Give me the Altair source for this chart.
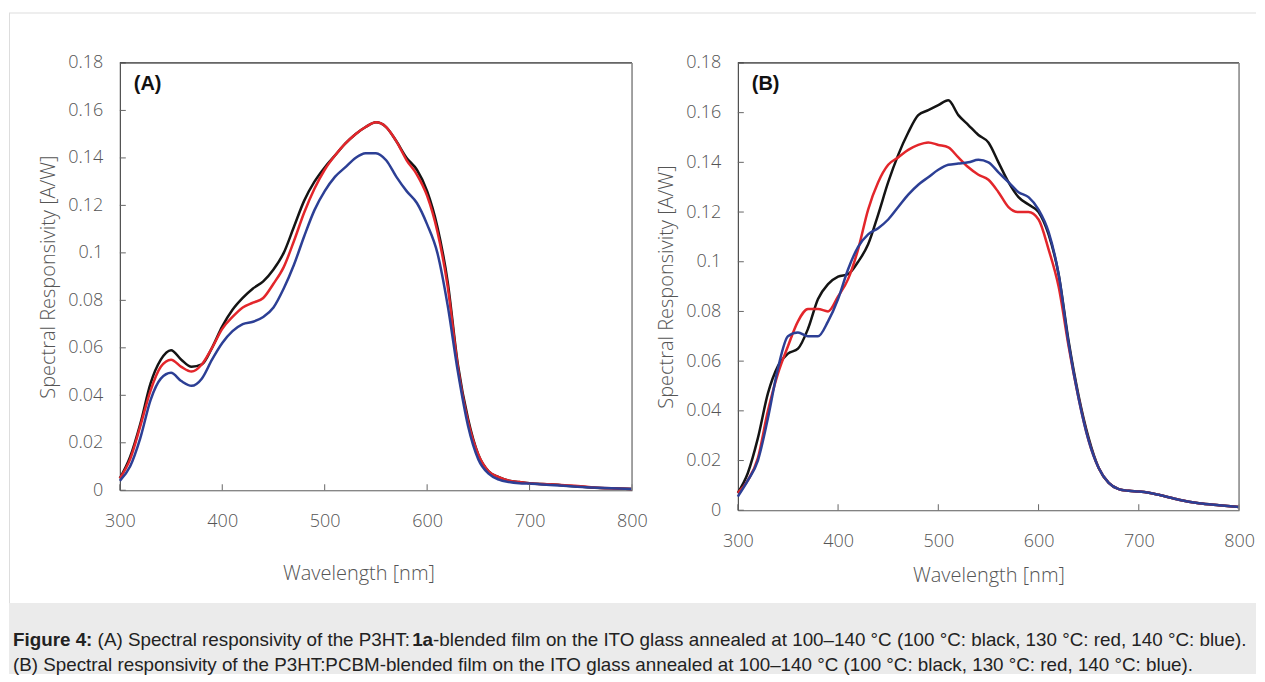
import altair as alt
import pandas as pd

# ---------------- data ----------------
wl_A = [300, 310, 320, 330, 340, 350, 360, 370, 380, 390, 400, 410, 420, 430, 440,
        450, 460, 470, 480, 490, 500, 510, 520, 530, 540, 550, 560, 570, 580, 590,
        600, 610, 620, 630, 640, 650, 660, 670, 680, 690, 700, 720, 740, 760, 780, 800]
A_black = [0.005, 0.014, 0.028, 0.045, 0.055, 0.059, 0.055, 0.052, 0.053, 0.060,
           0.069, 0.076, 0.081, 0.085, 0.088, 0.093, 0.100, 0.111, 0.122, 0.130,
           0.136, 0.141, 0.146, 0.150, 0.153, 0.155, 0.153, 0.147, 0.140, 0.135,
           0.126, 0.111, 0.088, 0.053, 0.030, 0.015, 0.008, 0.0055, 0.004, 0.0035,
           0.003, 0.0025, 0.0018, 0.0012, 0.0008, 0.0005]
A_red = [0.005, 0.013, 0.027, 0.042, 0.052, 0.055, 0.052, 0.050, 0.053, 0.060,
         0.068, 0.073, 0.077, 0.079, 0.081, 0.087, 0.094, 0.105, 0.117, 0.127,
         0.135, 0.141, 0.146, 0.150, 0.153, 0.155, 0.153, 0.147, 0.139, 0.133,
         0.124, 0.109, 0.086, 0.052, 0.029, 0.015, 0.008, 0.0055, 0.004, 0.0035,
         0.003, 0.0025, 0.002, 0.0013, 0.0008, 0.0005]
A_blue = [0.004, 0.010, 0.022, 0.038, 0.047, 0.0495, 0.046, 0.044, 0.047, 0.055,
          0.062, 0.067, 0.070, 0.071, 0.073, 0.077, 0.085, 0.095, 0.107, 0.118,
          0.126, 0.132, 0.136, 0.140, 0.142, 0.142, 0.139, 0.132, 0.126, 0.121,
          0.112, 0.100, 0.078, 0.050, 0.027, 0.013, 0.007, 0.0045, 0.0035, 0.003,
          0.0028, 0.0022, 0.0017, 0.0012, 0.0008, 0.0005]

wl_B = [300, 310, 320, 330, 340, 350, 360, 370, 380, 390, 400, 410, 420, 430, 440,
        450, 460, 470, 480, 490, 500, 510, 520, 530, 540, 550, 560, 570, 580, 590,
        600, 610, 620, 630, 640, 650, 660, 670, 680, 690, 700, 710, 720, 740, 760, 780, 800]
B_black = [0.007, 0.015, 0.029, 0.047, 0.058, 0.063, 0.065, 0.073, 0.085, 0.091,
           0.094, 0.095, 0.100, 0.107, 0.119, 0.132, 0.143, 0.152, 0.159, 0.161,
           0.163, 0.165, 0.159, 0.155, 0.151, 0.148, 0.140, 0.132, 0.126, 0.123,
           0.120, 0.111, 0.095, 0.068, 0.046, 0.029, 0.017, 0.011, 0.0085, 0.0078,
           0.0075, 0.007, 0.0062, 0.0042, 0.0028, 0.002, 0.0013]
B_red = [0.007, 0.012, 0.021, 0.040, 0.055, 0.066, 0.076, 0.081, 0.081, 0.080,
         0.086, 0.093, 0.105, 0.121, 0.132, 0.139, 0.142, 0.145, 0.147, 0.148,
         0.147, 0.146, 0.142, 0.138, 0.135, 0.133, 0.128, 0.122, 0.120, 0.120,
         0.117, 0.105, 0.090, 0.066, 0.045, 0.028, 0.017, 0.011, 0.0085, 0.0078,
         0.0075, 0.007, 0.0062, 0.0042, 0.0028, 0.002, 0.0013]
B_blue = [0.0055, 0.012, 0.020, 0.037, 0.057, 0.070, 0.0715, 0.070, 0.070, 0.076,
          0.085, 0.097, 0.106, 0.111, 0.1135, 0.117, 0.122, 0.127, 0.131, 0.134,
          0.137, 0.139, 0.1395, 0.140, 0.141, 0.140, 0.136, 0.132, 0.128, 0.126,
          0.121, 0.112, 0.095, 0.067, 0.045, 0.028, 0.017, 0.011, 0.0085, 0.0078,
          0.0075, 0.007, 0.0062, 0.0042, 0.0028, 0.002, 0.0013]

series_names = ["100 °C", "130 °C", "140 °C"]
series_colors = ["#141414", "#e3262b", "#2c3f95"]
x_ticks = [300, 400, 500, 600, 700, 800]
y_ticks = [0, 0.02, 0.04, 0.06, 0.08, 0.10, 0.12, 0.14, 0.16, 0.18]
panel_labels = ["(A)", "(B)"]
x_title = "Wavelength [nm]"
y_title = "Spectral Responsivity [A/W]"

# (text, bold, leading gap in spaces)
cap1 = [("Figure 4:", True, 0), ("(A) Spectral responsivity of the P3HT:", False, 1), ("1a", True, 0),
        ("-blended film on the ITO glass annealed at 100–140 °C (100 °C: black, 130 °C: red, 140 °C: blue).", False, 0)]
cap2 = [("(B) Spectral responsivity of the P3HT:PCBM-blended film on the ITO glass annealed at 100–140 °C (100 °C: black, 130 °C: red, 140 °C: blue).", False, 0)]

# ---------------- caption text metrics (Arial / Liberation Sans) ----------------
REG = {' ': 278, '(': 333, ')': 333, 'A': 667, 'B': 667, 'C': 722, 'H': 722, 'I': 278,
       'M': 833, 'O': 778, 'P': 667, 'S': 667, 'T': 611, 'a': 556, 'b': 556, 'c': 500,
       'd': 556, 'e': 556, 'f': 278, 'g': 556, 'h': 556, 'i': 222, 'k': 500, 'l': 222,
       'm': 833, 'n': 556, 'o': 556, 'p': 556, 'r': 333, 's': 500, 't': 278, 'u': 556,
       'v': 500, 'y': 500, ':': 278, '-': 333, '–': 556, '°': 400, ',': 278, '.': 278}
BOLD = {'F': 611, 'i': 278, 'g': 611, 'u': 611, 'r': 389, 'e': 556, ' ': 278, ':': 333, 'a': 556}


def units(s, bold):
    tbl = BOLD if bold else REG
    return sum(556 if ch.isdigit() else tbl.get(ch, 556) for ch in s)


line1_px = 1236.0
cap_fs = line1_px * 1000.0 / sum(units(s, b) + g * 278 for s, b, g in cap1)

FONT = "Open Sans"
FW = 300
CAP_FONT = "Liberation Sans"


def panel(wl, ys_list, w, h, label, xlab_pad, xtitle_pad, xtitle_x, extras=None):
    rows = []
    for name, vals in zip(series_names, ys_list):
        for x, v in zip(wl, vals):
            rows.append({"wl": x, "v": v, "series": name})
    df = pd.DataFrame(rows)
    xs = alt.Scale(domain=[300, 800], nice=False, zero=False)
    ysc = alt.Scale(domain=[0, 0.18], nice=False)
    xaxis = alt.Axis(values=x_ticks, format="d", ticks=False, tickSize=0, grid=False,
                     labelFlush=False, labelPadding=xlab_pad, labelFont=FONT, labelFontSize=18,
                     labelFontWeight=FW, labelColor="#555", title=x_title, titleFont=FONT,
                     titleFontSize=20, titleFontWeight=FW, titleColor="#555",
                     titlePadding=xtitle_pad, titleX=xtitle_x, domainColor="#666")
    yaxis = alt.Axis(values=y_ticks, format=".2~f", ticks=False, tickSize=0, grid=False,
                     labelFlush=False, labelPadding=17, labelFont=FONT, labelFontSize=18,
                     labelFontWeight=FW, labelColor="#555", title=y_title, titleFont=FONT,
                     titleFontSize=20, titleFontWeight=FW, titleColor="#555", titlePadding=9,
                     domainColor="#333")
    lines = alt.Chart(df).mark_line(strokeWidth=2.5, interpolate="monotone").encode(
        x=alt.X("wl:Q", scale=xs, axis=xaxis),
        y=alt.Y("v:Q", scale=ysc, axis=yaxis),
        color=alt.Color("series:N", scale=alt.Scale(domain=series_names, range=series_colors),
                        legend=None),
    )
    xt = alt.Chart(pd.DataFrame({"wl": x_ticks})).mark_rule(color="#666", strokeWidth=1).encode(
        x=alt.X("wl:Q", scale=xs, axis=xaxis), y=alt.value(h), y2=alt.value(h - 6))
    yt = alt.Chart(pd.DataFrame({"v": y_ticks})).mark_rule(color="#666", strokeWidth=1).encode(
        y=alt.Y("v:Q", scale=ysc, axis=yaxis), x=alt.value(0), x2=alt.value(6))
    one_row = pd.DataFrame({"d": [0]})
    top = alt.Chart(one_row).mark_rule(color="#333", strokeWidth=1.2).encode(
        x=alt.value(0), x2=alt.value(w), y=alt.value(0))
    right = alt.Chart(one_row).mark_rule(color="#888", strokeWidth=1.5).encode(
        x=alt.value(w), y=alt.value(0), y2=alt.value(h))
    lab = alt.Chart(pd.DataFrame({"t": [label]})).mark_text(
        align="left", baseline="alphabetic", font=CAP_FONT, fontSize=20, fontWeight="bold",
        color="#111").encode(x=alt.value(14), y=alt.value(27), text="t:N")
    layers = [lines, xt, yt, top, right, lab]
    if extras:
        layers = extras + layers
    return alt.layer(*layers).properties(width=w, height=h)


# caption + frame drawn relative to panel A's plot origin (page 119, 62)
ox, oy = 119, 62
one = pd.DataFrame({"d": [0]})
extras = []
extras.append(alt.Chart(one).mark_rect(color="#ebebeb").encode(
    x=alt.value(8 - ox), x2=alt.value(1257 - ox), y=alt.value(603 - oy), y2=alt.value(674 - oy)))
extras.append(alt.Chart(one).mark_rule(color="#dddddd", strokeWidth=1).encode(
    x=alt.value(8 - ox), x2=alt.value(1257 - ox), y=alt.value(12 - oy)))
extras.append(alt.Chart(one).mark_rule(color="#dddddd", strokeWidth=1).encode(
    x=alt.value(8.5 - ox), y=alt.value(12 - oy), y2=alt.value(603 - oy)))

for line, base in ((cap1, 646), (cap2, 671)):
    xpos = 12.0
    for seg, bold, gap in line:
        xpos += gap * 278 * cap_fs / 1000.0
        extras.append(alt.Chart(pd.DataFrame({"t": [seg]})).mark_text(
            align="left", baseline="alphabetic", font=CAP_FONT, fontSize=cap_fs,
            fontWeight="bold" if bold else "normal", color="#222").encode(
            x=alt.value(xpos - ox), y=alt.value(base - oy), text="t:N"))
        xpos += units(seg, bold) * cap_fs / 1000.0

pA = panel(wl_A, [A_black, A_red, A_blue], 513, 428, panel_labels[0], 22, 33, 239, extras)
pB = panel(wl_B, [B_black, B_red, B_blue], 502, 448, panel_labels[1], 22, 15, 251)

chart = alt.hconcat(pA, pB, spacing=106, bounds="flush").properties(
    padding={"left": 0, "top": 3.5, "right": 0, "bottom": 0}
).configure_view(stroke=None).configure(background="white")

chart.save("out.html", embed_options={"renderer": "svg", "actions": False})
